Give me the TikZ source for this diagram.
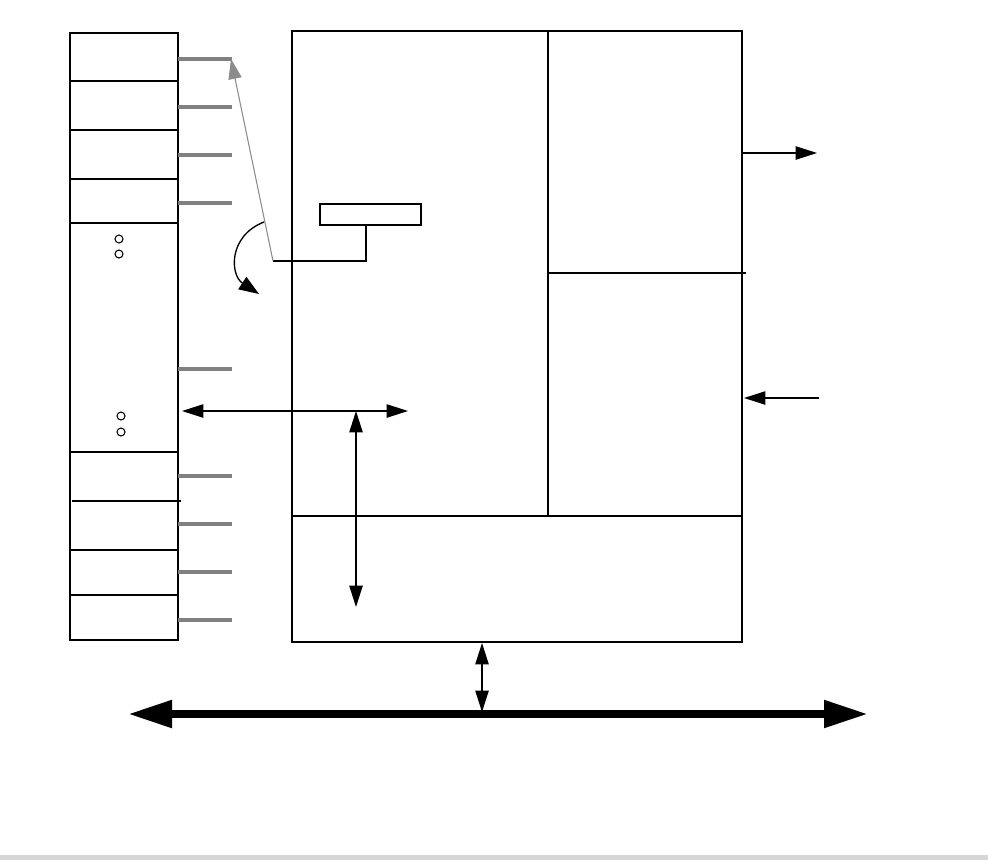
\documentclass[tikz,border=0pt]{standalone}
\usetikzlibrary{arrows.meta,fit}
\begin{document}
\begin{tikzpicture}[x=0.75pt,y=-0.75pt,
  box/.style={draw, line width=1pt, inner sep=0pt},
  divider/.style={line width=1pt},
  thickdiv/.style={line width=1.8pt},
  stub/.style={line width=2.8pt, draw=black!50},
  arr/.style={line width=1pt, -{Triangle[length=16pt,width=10pt]}},
  darr/.style={line width=1pt, {Triangle[length=16pt,width=10pt]}-{Triangle[length=16pt,width=10pt]}},
  busarr/.style={line width=6pt, {Triangle[length=33pt,width=19.5pt]}-{Triangle[length=33pt,width=19.5pt]}},
  dot/.style={line width=0.8pt},
]
\useasboundingbox (0,0) rectangle (988,860);
\fill[white] (0,0) rectangle (988,860);
\fill[black!16] (0,855) rectangle (988,860);

% left column
\node[box, fit={(70,33) (178,640)}] (col) {};
\draw[divider] (69,81) -- (179,81);
\draw[divider] (70,130) -- (179,130);
\draw[divider] (69,179) -- (178,179);
\draw[divider] (69,223) -- (178,223);
\draw[divider] (70,452) -- (178,452);
\draw[divider] (72,501) -- (181,501);
\draw[divider] (70,550) -- (178,550);
\draw[divider] (70,595) -- (178,595);
\foreach \y in {59,107,155,203,369,476,524,572,620}
  \draw[stub] (178,\y) -- (232,\y);
\draw[dot] (119,239) circle[radius=3pt];
\draw[dot] (119,254) circle[radius=3pt];
\draw[dot] (121,416) circle[radius=3pt];
\draw[dot] (121,432) circle[radius=3pt];

% main box
\node[box, fit={(292,31) (742,642)}] (main) {};
\draw[divider] (548,31) -- (548,516);
\draw[divider] (548,273) -- (746,273);
\draw[thickdiv] (291,516) -- (742,516);

% small register
\node[box, fit={(320,204) (421,225)}] (reg) {};
\coordinate (regfoot) at (366,225);
\coordinate (pivot) at (273,261);
\coordinate (stubtip) at (231,59);
\draw[thickdiv] (regfoot) |- (pivot);
\draw[line width=0.8pt, draw=black!45, -{Triangle[length=15pt,width=10pt,color=black!45,fill=black!45]}] (pivot) -- (stubtip);
\coordinate (arcstart) at (264,222);
\coordinate (arcend) at (259,294);
\draw[line width=1pt, -{Triangle[length=15pt,width=11pt]}] (arcstart) .. controls (228,236) and (230,275) .. (arcend);

% internal arrows
\coordinate (hl) at (182,411);
\coordinate (hr) at (408,411);
\coordinate (vt) at (356,411);
\coordinate (vb) at (356,607);
\draw[darr] (hl) -- (hr);
\draw[darr] (vt) -- (vb);

% right side arrows
\coordinate (outend) at (817,153);
\coordinate (inend) at (819,398);
\draw[arr] (742,153) -- (outend);
\draw[arr] (inend) -- (744,398);

% bus
\coordinate (busl) at (128,714);
\coordinate (busr) at (868,714);
\coordinate (bustop) at (482,643);
\coordinate (busmid) at (482,712);
\draw[busarr] (busl) -- (busr);
\draw[darr] (bustop) -- (busmid);
\end{tikzpicture}
\end{document}
